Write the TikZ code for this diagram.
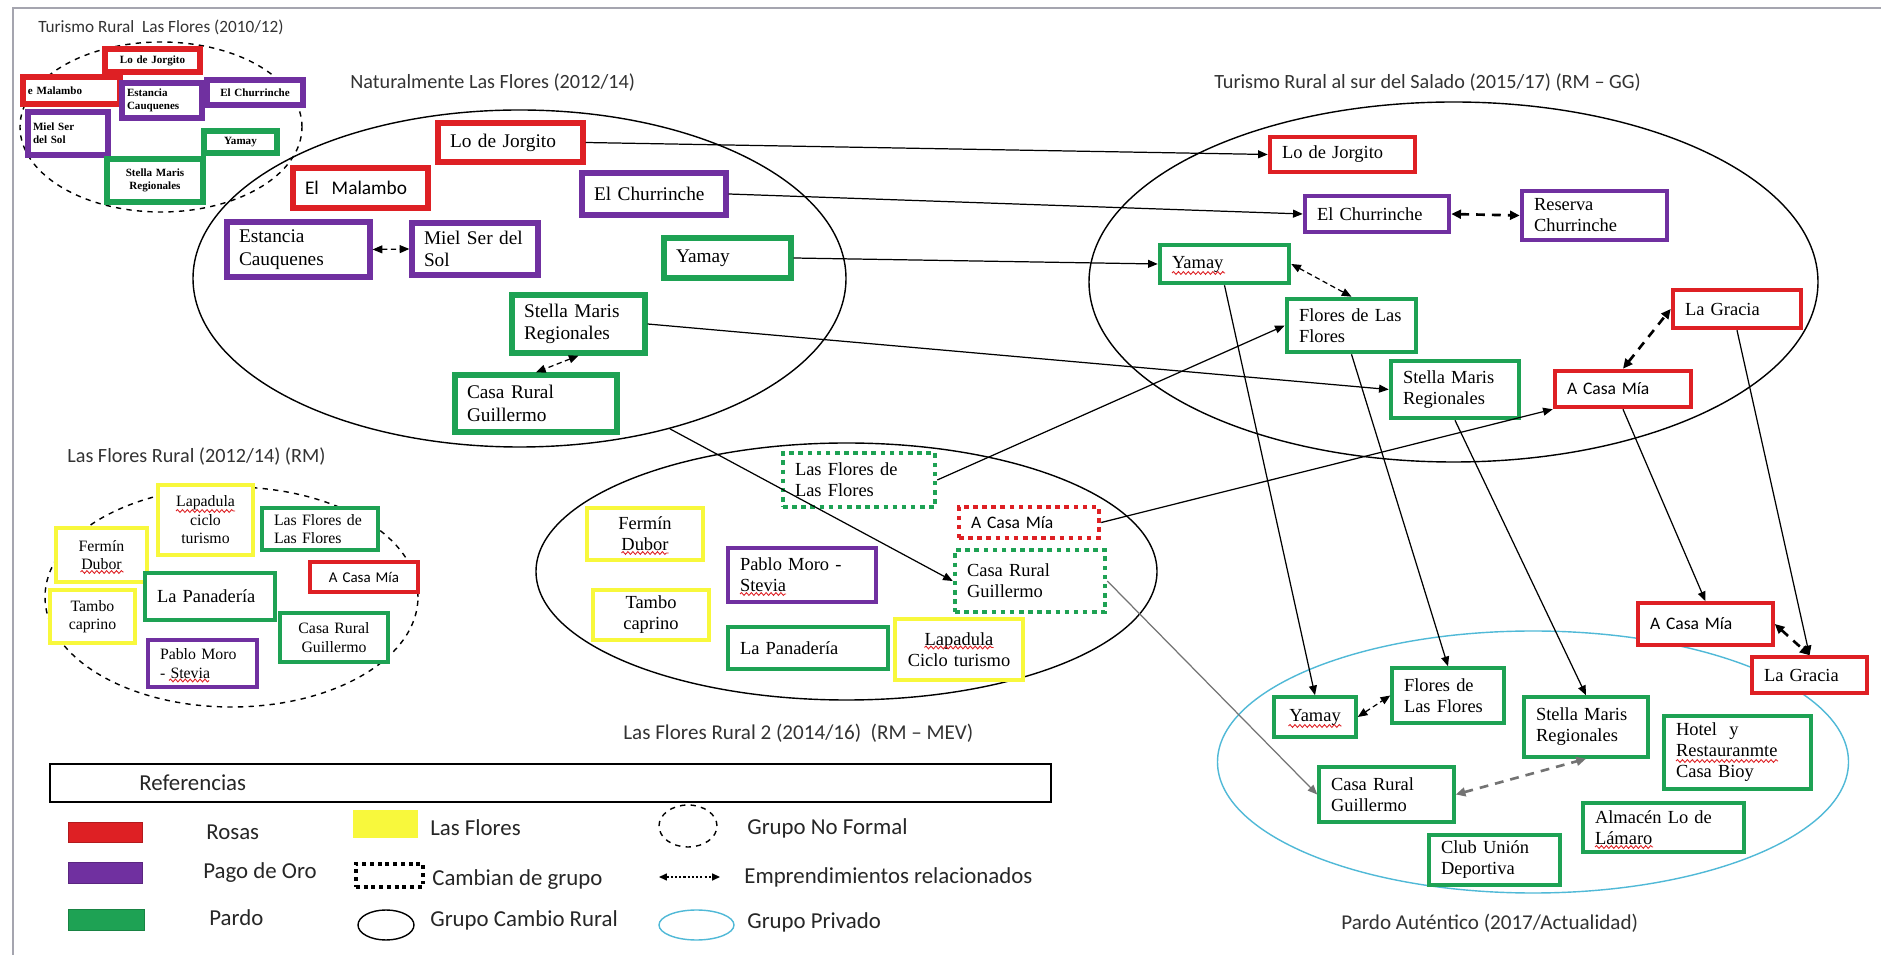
\documentclass[tikz,border=0pt]{standalone}
\usepackage{fontspec}
\setmainfont{Liberation Serif}
\newfontfamily\calfnt{Carlito}
\usetikzlibrary{shapes.geometric,arrows.meta,decorations.pathmorphing}
\definecolor{cR}{RGB}{222,32,36}
\definecolor{cP}{RGB}{112,48,160}
\definecolor{cG}{RGB}{30,162,84}
\definecolor{cY}{RGB}{248,248,60}
\definecolor{cC}{RGB}{80,185,215}
\definecolor{frm}{RGB}{165,165,175}
\tikzset{
  bx/.style={draw=#1, line width=2.6pt, fill=white, align=left, font=\fontsize{10.5}{12}\selectfont},
  sz/.style 2 args={minimum width=#1*0.02cm, minimum height=#2*0.02cm, text width=(#1-24)*0.02cm, inner xsep=0.24cm, inner ysep=0pt},
  szc/.style 2 args={minimum width=#1*0.02cm, minimum height=#2*0.02cm, text width=(#1-12)*0.02cm, inner xsep=0.12cm, inner ysep=0pt, align=center},
  szs/.style 2 args={minimum width=#1*0.02cm, minimum height=#2*0.02cm, text width=(#1-10)*0.02cm, inner xsep=0.1cm, inner ysep=0pt},
  esz/.style 2 args={minimum width=#1*0.02cm, minimum height=#2*0.02cm, inner sep=0pt},
  dotbx/.style={dash pattern=on 2.6pt off 2.6pt},
  fS/.style={font=\bfseries\fontsize{6.3}{7.3}\selectfont, line width=3pt},
  fM/.style={font=\fontsize{9}{10.5}\selectfont, line width=2.8pt},
  fL/.style={font=\fontsize{11}{12.8}\selectfont, line width=3pt},
  fP/.style={line width=2pt},
  sans/.style={font=\calfnt\fontsize{10}{11}\selectfont},
  ttl/.style={anchor=west, inner sep=0pt, font=\calfnt\fontsize{11.5}{13}\selectfont, text=black!80},
  lg/.style={anchor=west, inner sep=0pt, font=\calfnt\fontsize{13}{15}\selectfont, text=black!85},
  grp/.style={draw, ellipse, line width=0.8pt},
  conn/.style={-{Triangle[length=5.5pt,width=4.5pt]}, line width=0.7pt},
  rel/.style={{Triangle[length=5.5pt,width=4.5pt]}-{Triangle[length=5.5pt,width=4.5pt]}, line width=0.7pt, dash pattern=on 3pt off 2pt},
  relb/.style={{Triangle[length=5.5pt,width=5pt]}-{Triangle[length=5.5pt,width=5pt]}, line width=1.5pt, dash pattern=on 5pt off 4pt},
  sqz/.style={cR, line width=0.5pt, decorate, decoration={snake, amplitude=0.8pt, segment length=2.8pt}},
}
\begin{document}
\begin{tikzpicture}[x=0.02cm,y=-0.02cm]
\useasboundingbox (0,0) rectangle (1881,955);
\fill[white] (0,0) rectangle (1881,955);
\draw[frm, line width=1.6pt] (1881,8) -- (13,8) -- (13,955);

% ---------- group ellipses ----------
\node[grp, dashed, esz={282}{170}] (g1) at (161,127) {};
\node[grp, esz={653}{337}] (nat) at (519.5,278.5) {};
\node[grp, dashed, esz={373}{220}] (g2) at (231.5,597) {};
\node[grp, esz={621}{257}] (rur) at (846.5,571.5) {};
\node[grp, esz={729}{360}] (sal) at (1453.5,282) {};
\node[grp, draw=cC, esz={631}{262}] (par) at (1533,762) {};

% ---------- titles ----------
\node[ttl, font=\calfnt\fontsize{9.8}{11}\selectfont] (t1) at (38,27) {Turismo Rural\ \ Las Flores (2010/12)};
\node[ttl] (t2) at (350,83) {Naturalmente Las Flores (2012/14)};
\node[ttl] (t3) at (67,457) {Las Flores Rural (2012/14) (RM)};
\node[ttl, font=\calfnt\fontsize{12}{14}\selectfont] (t4) at (623,733) {Las Flores Rural 2 (2014/16)\ \ (RM – MEV)};
\node[ttl] (t5) at (1214,83) {Turismo Rural al sur del Salado (2015/17) (RM – GG)};
\node[ttl, font=\calfnt\fontsize{12}{14}\selectfont] (t6) at (1341,923) {Pardo Auténtico (2017/Actualidad)};

% ---------- Turismo Rural Las Flores (2010/12) ----------
\node[bx=cR, fS, szs={95}{23}, align=center] (a1) at (152.5,60.5) {Lo de Jorgito};
\node[bx=cR, fS, szs={97}{27}] (a2) at (71.5,90.5) {e Malambo};
\node[bx=cP, fS, szs={80}{35}] (a3) at (162,100.5) {Estancia\\Cauquenes};
\node[bx=cP, fS, szs={96}{25}, align=center] (a4) at (255,92.5) {El Churrinche};
\node[bx=cP, fS, szs={80}{43}] (a5) at (68,133.5) {Miel Ser\\del Sol};
\node[bx=cG, fS, szs={73}{22}, align=center] (a6) at (240.5,142) {Yamay};
\node[bx=cG, fS, szs={96}{43}, align=center] (a7) at (155,180.5) {Stella Maris\\Regionales};

% ---------- Naturalmente Las Flores ----------
\node[bx=cR, fL, sz={145}{39}] (n1) at (510.5,142.5) {Lo de Jorgito};
\node[bx=cR, fL, sz={135}{40}, font=\calfnt\fontsize{11}{12.8}\selectfont] (n2) at (360.5,188) {El\ \ Malambo};
\node[bx=cP, fL, sz={144}{42}] (n3) at (654,194) {El Churrinche};
\node[bx=cP, fL, sz={143}{55}] (n4) at (298.5,249.5) {Estancia\\Cauquenes};
\node[bx=cP, fL, sz={126}{52}] (n5) at (475,249) {Miel Ser del\\Sol};
\node[bx=cG, fL, sz={127}{40}] (n6) at (727.5,258) {Yamay};
\node[bx=cG, fL, sz={133}{58}] (n7) at (578.5,324) {Stella Maris\\Regionales};
\node[bx=cG, fL, sz={162}{57}] (n8) at (536,403.5) {Casa Rural\\Guillermo};

% ---------- Las Flores Rural (RM) ----------
\node[bx=cY, fM, szc={95}{70}] (r1) at (205.5,520) {Lapadula\\ciclo\\turismo};
\node[bx=cG, fM, sz={116}{42}] (r2) at (320,529) {Las Flores de\\Las Flores};
\node[bx=cY, fM, szc={91}{54}] (r3) at (101.5,555) {Fermín\\Dubor};
\node[bx=cR, fM, szc={108}{30}, font=\calfnt\fontsize{8.5}{10}\selectfont] (r4) at (364,577) {A Casa Mía};
\node[bx=cG, fM, sz={130}{47}, font=\fontsize{10.5}{12}\selectfont] (r5) at (210,596.5) {La Panadería\\[0.6em]};
\node[bx=cY, fM, szc={85}{53}] (r6) at (92.5,616.5) {Tambo\\caprino};
\node[bx=cG, fM, szc={108}{49}] (r7) at (334,637.5) {Casa Rural\\Guillermo};
\node[bx=cP, fM, sz={109}{47}] (r8) at (202.5,663.5) {Pablo Moro\\- Stevia};

% ---------- Las Flores Rural 2 ----------
\node[bx=cG, dotbx, sz={152}{54}] (m1) at (859,480) {Las Flores de\\Las Flores};
\node[bx=cR, dotbx, sz={140}{31}, sans] (m2) at (1029,522.5) {A Casa Mía};
\node[bx=cG, dotbx, sz={150}{62}] (m3) at (1030,581) {Casa Rural\\Guillermo};
\node[bx=cY, szc={116}{52}] (m4) at (645,534) {Fermín\\Dubor};
\node[bx=cY, szc={116}{50}] (m5) at (651,615) {Tambo\\caprino};
\node[bx=cP, sz={148}{54}] (m6) at (802,575) {Pablo Moro -\\Stevia};
\node[bx=cG, sz={160}{42}] (m7) at (808,648) {La Panadería};
\node[bx=cY, szc={128}{61}] (m8) at (959,649.5) {Lapadula\\Ciclo turismo};

% ---------- Turismo Rural al sur del Salado ----------
\node[bx=cR, sz={145}{35}] (s1) at (1342.5,154.5) {Lo de Jorgito};
\node[bx=cP, sz={144}{36}] (s2) at (1377,214) {El Churrinche};
\node[bx=cP, sz={145}{49}] (s3) at (1594.5,215.5) {Reserva\\Churrinche};
\node[bx=cG, sz={129}{38}] (s4) at (1224.5,264) {Yamay};
\node[bx=cG, sz={129}{53}] (s5) at (1351.5,325.5) {Flores de Las\\Flores};
\node[bx=cG, sz={128}{57}] (s6) at (1455,389.5) {Stella Maris\\Regionales};
\node[bx=cR, sz={128}{38}] (s7) at (1737,309) {La Gracia};
\node[bx=cR, sz={136}{36}, sans] (s8) at (1623,389) {A Casa Mía};

% ---------- Pardo Autentico ----------
\node[bx=cR, fP, sz={135}{42}, sans] (p1) at (1705.5,624) {A Casa Mía\\[0.4em]};
\node[bx=cR, fP, sz={115}{36}] (p2) at (1809.5,675) {La Gracia};
\node[bx=cG, fP, szc={82}{40}] (p3) at (1315,717) {Yamay};
\node[bx=cG, fP, sz={112}{55}] (p4) at (1448,695.5) {Flores de\\Las Flores};
\node[bx=cG, fP, sz={124}{60}] (p5) at (1586,727) {Stella Maris\\Regionales\\[0.3em]};
\node[bx=cG, fP, sz={147}{73}] (p6) at (1737.5,752.5) {Hotel\ \ y\\Restauranmte\\Casa Bioy};
\node[bx=cG, fP, sz={135}{55}] (p7) at (1386.5,794.5) {Casa Rural\\Guillermo};
\node[bx=cG, fP, sz={161}{49}] (p8) at (1663.5,827.5) {Almacén Lo de\\Lámaro};
\node[bx=cG, fP, sz={131}{50}] (p9) at (1494.5,860) {Club Unión\\Deportiva};

% ---------- spell-check squiggles ----------
\draw[sqz] ([shift={(-52.5,9)}]s4.center) -- ++(53,0);
\draw[sqz] ([shift={(-26.5,9)}]p3.center) -- ++(53,0);
\draw[sqz] ([shift={(-29.5,-9)}]r1.center) -- ++(59,0);
\draw[sqz] ([shift={(-21,17)}]r3.center) -- ++(43,0);
\draw[sqz] ([shift={(-23.5,19)}]m4.center) -- ++(47,0);
\draw[sqz] ([shift={(-33.5,17)}]r8.center) -- ++(40,0);
\draw[sqz] ([shift={(-62,19)}]m6.center) -- ++(46,0);
\draw[sqz] ([shift={(-34.5,-2)}]m8.center) -- ++(69,0);
\draw[sqz] ([shift={(-61.5,8.5)}]p6.center) -- ++(102,0);
\draw[sqz] ([shift={(-68.5,19.5)}]p8.center) -- ++(58,0);

% ---------- connectors ----------
\draw[conn] (n1.east) -- (s1.west);
\draw[conn] (n3.east) -- (s2.west);
\draw[conn] (n6.east) -- (s4.west);
\draw[conn] (n7.east) -- (s6.west);
\draw[conn] (nat.-45.6) -- (m3.west);
\draw[conn] (m1.east) -- (s5.west);
\draw[conn] (m2.east) -- (s8.south west);
\draw[conn, black!55] (m3.east) -- (p7.west);
\draw[conn] (s4.south) -- (p3.north);
\draw[conn] (s5.south) -- (p4.north);
\draw[conn] (s6.south) -- (p5.north);
\draw[conn] (s8.south) -- (p1.north);
\draw[conn] (s7.south) -- (p2.north);

\draw[rel] (n4.east) -- (n5.west);
\draw[rel] (n7.south) -- (n8.north);
\draw[relb] (s2.east) -- (s3.west);
\draw[rel] (s4.east) -- (s5.north);
\draw[relb] (s8.north) -- (s7.west);
\draw[relb] (p1.east) -- (p2.north);
\draw[rel] (p3.east) -- (p4.west);
\draw[relb, black!55] (p7.east) -- (p5.south);

% ---------- legend ----------
\node[draw, line width=0.9pt, esz={1001}{38}] (ref) at (550.5,783) {};
\node[lg] (refT) at (139,783) {Referencias};
\node[fill=cR, draw=cR!80!black, esz={74}{20}] (lR) at (105,832) {};
\node[fill=cP, draw=cP!80!black, esz={74}{21}] (lP) at (105,872.5) {};
\node[fill=cG, draw=cG!80!black, esz={76}{21}] (lG) at (106,919.5) {};
\node[lg] (lRt) at (206,832) {Rosas};
\node[lg] (lPt) at (203,873) {Pago de Oro};
\node[lg] (lGt) at (209,918) {Pardo};
\node[fill=cY, esz={65}{28}] (lY) at (385.5,824) {};
\node[lg] (lYt) at (430,828) {Las Flores};
\node[draw, line width=2.2pt, dash pattern=on 2.2pt off 2.2pt, esz={67}{23}] (lD) at (389.5,875.5) {};
\node[lg] (lDt) at (432,880) {Cambian de grupo};
\node[grp, esz={56}{30}] (lE) at (386,925) {};
\node[lg] (lEt) at (430,920) {Grupo Cambio Rural};
\node[grp, dashed, esz={58}{42}] (lF) at (688,826) {};
\node[lg] (lFt) at (747,828) {Grupo No Formal};
\coordinate (la1) at (659,877);
\coordinate (la2) at (720,877);
\draw[{Triangle[length=4.5pt,width=4pt]}-{Triangle[length=4.5pt,width=4pt]}, line width=0.7pt, dash pattern=on 1.2pt off 1.2pt] (la1) -- (la2);
\node[lg] (lAt) at (744,877) {Emprendimientos relacionados};
\node[grp, draw=cC, esz={75}{30}] (lC) at (696.5,925) {};
\node[lg] (lCt) at (747,922) {Grupo Privado};
\end{tikzpicture}
\end{document}
